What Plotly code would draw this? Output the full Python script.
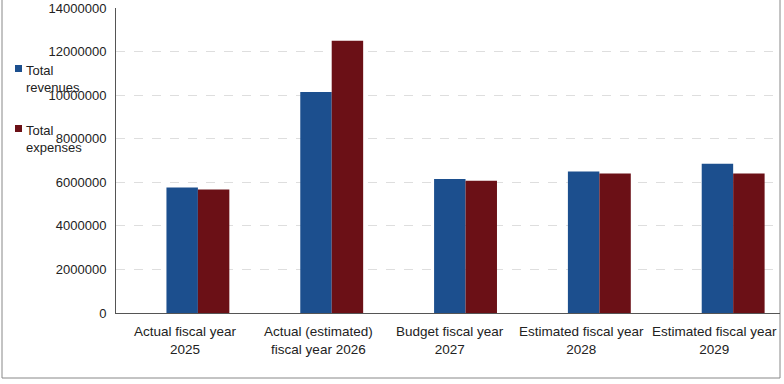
import plotly.graph_objects as go

categories = ["Actual fiscal year<br>2025", "Actual (estimated)<br>fiscal year 2026",
              "Budget fiscal year<br>2027", "Estimated fiscal year<br>2028",
              "Estimated fiscal year<br>2029"]
series_names = ["Total<br>revenues", "Total<br>expenses"]
revenues = [5760000, 10150000, 6150000, 6500000, 6850000]
expenses = [5670000, 12500000, 6070000, 6400000, 6400000]
y_ticks = [0, 2000000, 4000000, 6000000, 8000000, 10000000, 12000000, 14000000]
colors = ["#1c4f8e", "#6b1016"]

W, H = 784, 384
L, R, T, B = 116, 4, 8, 71
pw, ph = W - L - R, H - T - B

def px(x):
    return (x - L) / pw

def py(y):
    return (H - B - y) / ph

fig = go.Figure()
for name, vals, col in zip(series_names, [revenues, expenses], colors):
    fig.add_trace(go.Bar(name=name, x=list(range(len(categories))), y=vals,
                         marker=dict(color=col, line=dict(width=0))))

fig.update_layout(
    width=W, height=H,
    margin=dict(l=L, r=R, t=T, b=B, autoexpand=False),
    paper_bgcolor="white", plot_bgcolor="white",
    barmode="group", bargap=0.53, bargroupgap=0,
    font=dict(family="Liberation Sans, Arial, sans-serif", size=13, color="#222"),
    showlegend=False,
    xaxis=dict(range=[-0.612, 4.35], showline=True, linecolor="#555", linewidth=1,
               ticks="", showgrid=False, zeroline=False, showticklabels=False,
               automargin=False),
    yaxis=dict(range=[0, 14000000], tickmode="array", tickvals=y_ticks,
               ticktext=[str(v) for v in y_ticks],
               showline=True, linecolor="#555", linewidth=1, ticks="",
               showgrid=True, gridcolor="#dedede", griddash="dash", gridwidth=1,
               zeroline=False, tickfont=dict(size=13, color="#222"),
               ticklabelstandoff=6, automargin=False),
)

# category labels (sit slightly left of their bar groups, as in the reference)
shifts = [-12, -13, -16, -18, -19]
for i, (lab, sh) in enumerate(zip(categories, shifts)):
    fig.add_annotation(x=i, xref="x", y=py(322), yref="paper", text=lab,
                       showarrow=False, yanchor="top", xshift=sh,
                       font=dict(size=13.5, color="#222"), align="center")

# legend drawn at left, overlapping the tick labels as in the reference
leg_y = [64, 124]
for name, col, yy in zip(series_names, colors, leg_y):
    fig.add_shape(type="rect", xref="paper", yref="paper",
                  x0=px(15), x1=px(22), y0=py(yy + 8), y1=py(yy + 1),
                  fillcolor=col, line=dict(width=0))
    fig.add_annotation(x=px(24), xref="paper", y=py(yy - 3), yref="paper",
                       text=name, showarrow=False, xanchor="left", yanchor="top",
                       align="left", font=dict(size=13, color="#222"))

fig.add_shape(type="rect", xref="paper", yref="paper",
              x0=px(2), x1=px(780), y0=py(378), y1=py(-5),
              line=dict(color="#888", width=1), layer="below")

fig.write_html("out.html", config={"displayModeBar": False},
               post_script="document.body.style.margin='0';")
